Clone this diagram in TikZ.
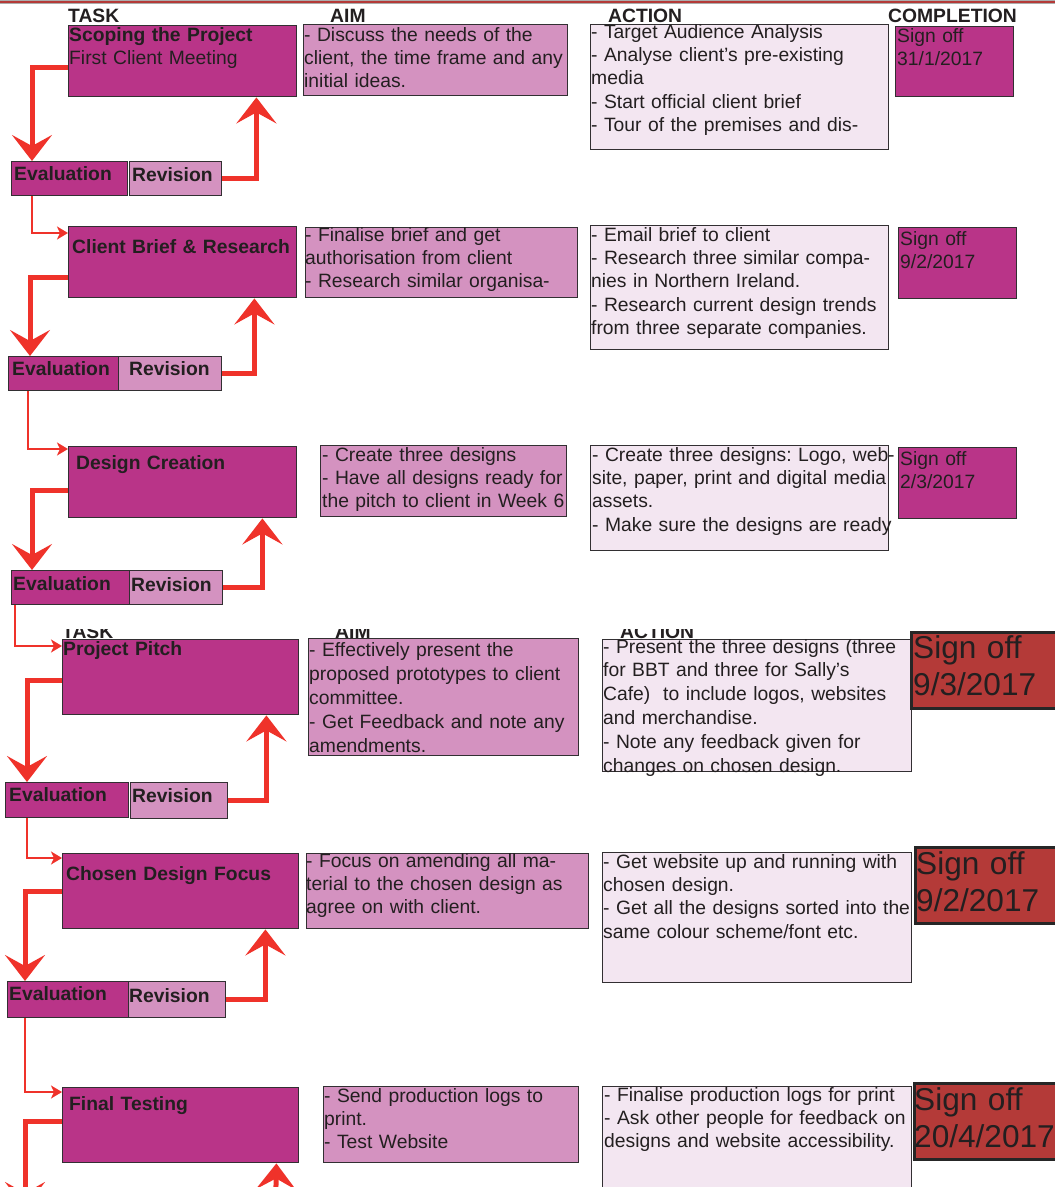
\documentclass[tikz,border=0pt]{standalone}
\usepackage{fontspec}
\setmainfont{Liberation Sans}
\usepackage{xcolor}
\usetikzlibrary{arrows.meta}
\frenchspacing
\definecolor{taskpink}{RGB}{185,52,136}
\definecolor{aimpink}{RGB}{212,146,192}
\definecolor{actionpink}{RGB}{243,230,241}
\definecolor{signred}{RGB}{180,58,56}
\definecolor{arrowred}{RGB}{239,50,42}
\definecolor{boxline}{RGB}{50,47,50}
\definecolor{inktext}{RGB}{35,31,32}
\tikzset{
    cell/.style={draw=boxline, line width=1.4pt, inner sep=0pt, anchor=north west},
    taskcell/.style={cell, fill=taskpink},
    aimcell/.style={cell, fill=aimpink},
    actioncell/.style={cell, fill=actionpink},
    signcell/.style={cell, fill=signred, draw=black!85, line width=3pt},
    txt/.style={anchor=base west, inner sep=0pt, text=inktext, align=left, text width=#1, font=\fontsize{19.3}{23.4}\selectfont},
    txt/.default=330pt,
    boldtxt/.style={txt, font=\fontsize{19.3}{23.4}\selectfont\bfseries},
    bigtxt/.style={txt, font=\fontsize{31.6}{37}\selectfont},
    head/.style={anchor=base west, inner sep=0pt, text=inktext, font=\fontsize{19.3}{23.4}\selectfont\bfseries},
    loopline/.style={draw=arrowred, line width=5pt, -{Stealth[length=26pt,width=40pt,inset=11pt]}},
    nextline/.style={draw=arrowred, line width=2.5pt, -{Stealth[length=11pt,width=13pt,inset=3pt]}}
}
\begin{document}
\begin{tikzpicture}[x=1pt,y=-1pt]
        \useasboundingbox (0,0) rectangle (1055,1187);
        \fill[gray!65] (0,0) rectangle (1055,4);
        \draw[signred, line width=1.2pt] (0,2) -- (1055,2);
        \node[head] (taskhead) at (68,22) {TASK};
        \node[head] (aimhead) at (330,22) {AIM};
        \node[head] (actionhead) at (608,22) {ACTION};
        \node[head] (completionhead) at (888,22) {COMPLETION};
        \node[taskcell, minimum width=228, minimum height=71] (task1) at (68,25) {};
        \node[aimcell, minimum width=264, minimum height=71] (aim1) at (303,24) {};
        \node[actioncell, minimum width=298, minimum height=125] (action1) at (590,24) {};
        \node[taskcell, minimum width=118, minimum height=70] (sign1) at (895,26) {};
        \node[taskcell, minimum width=116, minimum height=34] (eval1) at (11,161) {};
        \node[aimcell, minimum width=92, minimum height=34] (rev1) at (129,161) {};
        \node[txt] (task1text) at (69,41) {{\bfseries Scoping the Project}\\First Client Meeting};
        \node[txt] (aim1text) at (304,41) {- Discuss the needs of the\\client, the time frame and any\\initial ideas.};
        \node[txt] (action1text) at (591,38) {- Target Audience Analysis\\- Analyse client’s pre-existing\\media\\- Start official client brief\\- Tour of the premises and dis-};
        \node[txt] (sign1text) at (897,42) {Sign off\\31/1/2017};
        \node[boldtxt] (eval1text) at (14,180) {Evaluation};
        \node[boldtxt] (rev1text) at (132,181) {Revision};
        \node[taskcell, minimum width=228, minimum height=71] (task2) at (68,226) {};
        \node[aimcell, minimum width=272, minimum height=70] (aim2) at (305,227) {};
        \node[actioncell, minimum width=298, minimum height=124] (action2) at (590,225) {};
        \node[taskcell, minimum width=118, minimum height=71] (sign2) at (898,227) {};
        \node[taskcell, minimum width=110, minimum height=34] (eval2) at (8,356) {};
        \node[aimcell, minimum width=103, minimum height=34] (rev2) at (118,356) {};
        \node[boldtxt] (task2text) at (72,253) {Client Brief \& Research};
        \node[txt] (aim2text) at (305,241) {- Finalise brief and get\\authorisation from client\\- Research similar organisa-};
        \node[txt] (action2text) at (591,241) {- Email brief to client\\- Research three similar compa-\\nies in Northern Ireland.\\- Research current design trends\\from three separate companies.};
        \node[txt] (sign2text) at (900,245) {Sign off\\9/2/2017};
        \node[boldtxt] (eval2text) at (12,375) {Evaluation};
        \node[boldtxt] (rev2text) at (129,375) {Revision};
        \node[taskcell, minimum width=228, minimum height=71] (task3) at (68,446) {};
        \node[aimcell, minimum width=246, minimum height=71] (aim3) at (320,445) {};
        \node[actioncell, minimum width=298, minimum height=105] (action3) at (590,445) {};
        \node[taskcell, minimum width=118, minimum height=71] (sign3) at (898,447) {};
        \node[taskcell, minimum width=118, minimum height=34] (eval3) at (11,570) {};
        \node[aimcell, minimum width=93, minimum height=34] (rev3) at (129,570) {};
        \node[boldtxt] (task3text) at (76,469) {Design Creation};
        \node[txt] (aim3text) at (322,461) {- Create three designs\\- Have all designs ready for\\the pitch to client in Week 6};
        \node[txt] (action3text) at (592,461) {- Create three designs: Logo, web-\\site, paper, print and digital media\\assets.\\- Make sure the designs are ready};
        \node[txt] (sign3text) at (900,465) {Sign off\\2/3/2017};
        \node[boldtxt] (eval3text) at (13,590) {Evaluation};
        \node[boldtxt] (rev3text) at (131,591) {Revision};
        \begin{scope}
        \clip (0,629) rectangle (1055,640);
        \node[head] (taskhead2) at (62,638) {TASK};
        \node[head] (aimhead2) at (335,638) {AIM};
        \node[head] (actionhead2) at (620,638) {ACTION};
        \end{scope}
        \node[taskcell, minimum width=236, minimum height=75] (task4) at (62,639) {};
        \node[aimcell, minimum width=270, minimum height=117] (aim4) at (308,638) {};
        \node[actioncell, minimum width=309, minimum height=132] (action4) at (602,639) {};
        \node[signcell, minimum width=145, minimum height=76] (sign4) at (910,631) {};
        \node[taskcell, minimum width=123, minimum height=35] (eval4) at (5,782) {};
        \node[aimcell, minimum width=97, minimum height=36] (rev4) at (130,782) {};
        \node[boldtxt] (task4text) at (63,655) {Project Pitch};
        \node[txt, font=\fontsize{19.3}{24}\selectfont] (aim4text) at (309,656) {- Effectively present the\\proposed prototypes to client\\committee.\\- Get Feedback and note any\\amendments.};
        \node[txt, font=\fontsize{19.3}{23.8}\selectfont] (action4text) at (603,653) {- Present the three designs (three\\for BBT and three for Sally’s\\Cafe)~ to include logos, websites\\and merchandise.\\- Note any feedback given for\\changes on chosen design.};
        \node[bigtxt] (sign4text) at (913,658) {Sign off\\9/3/2017};
        \node[boldtxt] (eval4text) at (9,801) {Evaluation};
        \node[boldtxt] (rev4text) at (132,802) {Revision};
        \node[taskcell, minimum width=236, minimum height=75] (task5) at (62,853) {};
        \node[aimcell, minimum width=282, minimum height=75] (aim5) at (306,853) {};
        \node[actioncell, minimum width=309, minimum height=130] (action5) at (602,852) {};
        \node[signcell, minimum width=141, minimum height=76] (sign5) at (914,846) {};
        \node[taskcell, minimum width=121, minimum height=36] (eval5) at (7,981) {};
        \node[aimcell, minimum width=97, minimum height=36] (rev5) at (128,981) {};
        \node[boldtxt] (task5text) at (66,880) {Chosen Design Focus};
        \node[txt] (aim5text) at (306,867) {- Focus on amending all ma-\\terial to the chosen design as\\agree on with client.};
        \node[txt] (action5text) at (603,868) {- Get website up and running with\\chosen design.\\- Get all the designs sorted into the\\same colour scheme/font etc.};
        \node[bigtxt] (sign5text) at (916,874) {Sign off\\9/2/2017};
        \node[boldtxt] (eval5text) at (9,1000) {Evaluation};
        \node[boldtxt] (rev5text) at (129,1002) {Revision};
        \node[taskcell, minimum width=236, minimum height=75] (task6) at (62,1087) {};
        \node[aimcell, minimum width=255, minimum height=76] (aim6) at (323,1086) {};
        \node[actioncell, minimum width=309, minimum height=140] (action6) at (602,1086) {};
        \node[signcell, minimum width=142, minimum height=76] (sign6) at (913,1082) {};
        \node[boldtxt] (task6text) at (69,1110) {Final Testing};
        \node[txt] (aim6text) at (324,1102) {- Send production logs to\\print.\\- Test Website};
        \node[txt] (action6text) at (604,1101) {- Finalise production logs for print\\- Ask other people for feedback on\\designs and website accessibility.};
        \node[bigtxt] (sign6text) at (914,1110) {Sign off\\20/4/2017};
        \coordinate (eval6top) at (25,1208);
        \coordinate (rev6end) at (275,1240);
        \draw[loopline] ([yshift=-6pt]task1.west) -| ([xshift=21pt]eval1.north west);
        \draw[loopline] (rev1.east) -| ([xshift=-41pt]task1.south east);
        \draw[nextline] ([xshift=21pt]eval1.south west) |- ([yshift=-7pt]task2.north west);
        \draw[loopline] ([yshift=-15.5pt]task2.west) -| ([xshift=22pt]eval2.north west);
        \draw[loopline] (rev2.east) -| ([xshift=-43pt]task2.south east);
        \draw[nextline] ([xshift=20pt]eval2.south west) |- ([yshift=-3pt]task3.north west);
        \draw[loopline] ([yshift=-8.5pt]task3.west) -| ([xshift=21pt]eval3.north west);
        \draw[loopline] (rev3.east) -| ([xshift=-35pt]task3.south east);
        \draw[nextline] ([xshift=4pt]eval3.south west) |- ([yshift=-7pt]task4.north west);
        \draw[loopline] ([yshift=-3.5pt]task4.west) -| ([xshift=22pt]eval4.north west);
        \draw[loopline] (rev4.east) -| ([xshift=-33pt]task4.south east);
        \draw[nextline] ([xshift=22pt]eval4.south west) |- ([yshift=-5pt]task5.north west);
        \draw[loopline] (task5.west) -| ([xshift=18pt]eval5.north west);
        \draw[loopline] (rev5.east) -| ([xshift=-34pt]task5.south east);
        \draw[nextline] ([xshift=18pt]eval5.south west) |- ([yshift=-5pt]task6.north west);
        \draw[loopline] ([yshift=3.5pt]task6.west) -| (eval6top);
        \draw[loopline] (rev6end) -- ([xshift=-23pt]task6.south east);
\end{tikzpicture}
\end{document}
